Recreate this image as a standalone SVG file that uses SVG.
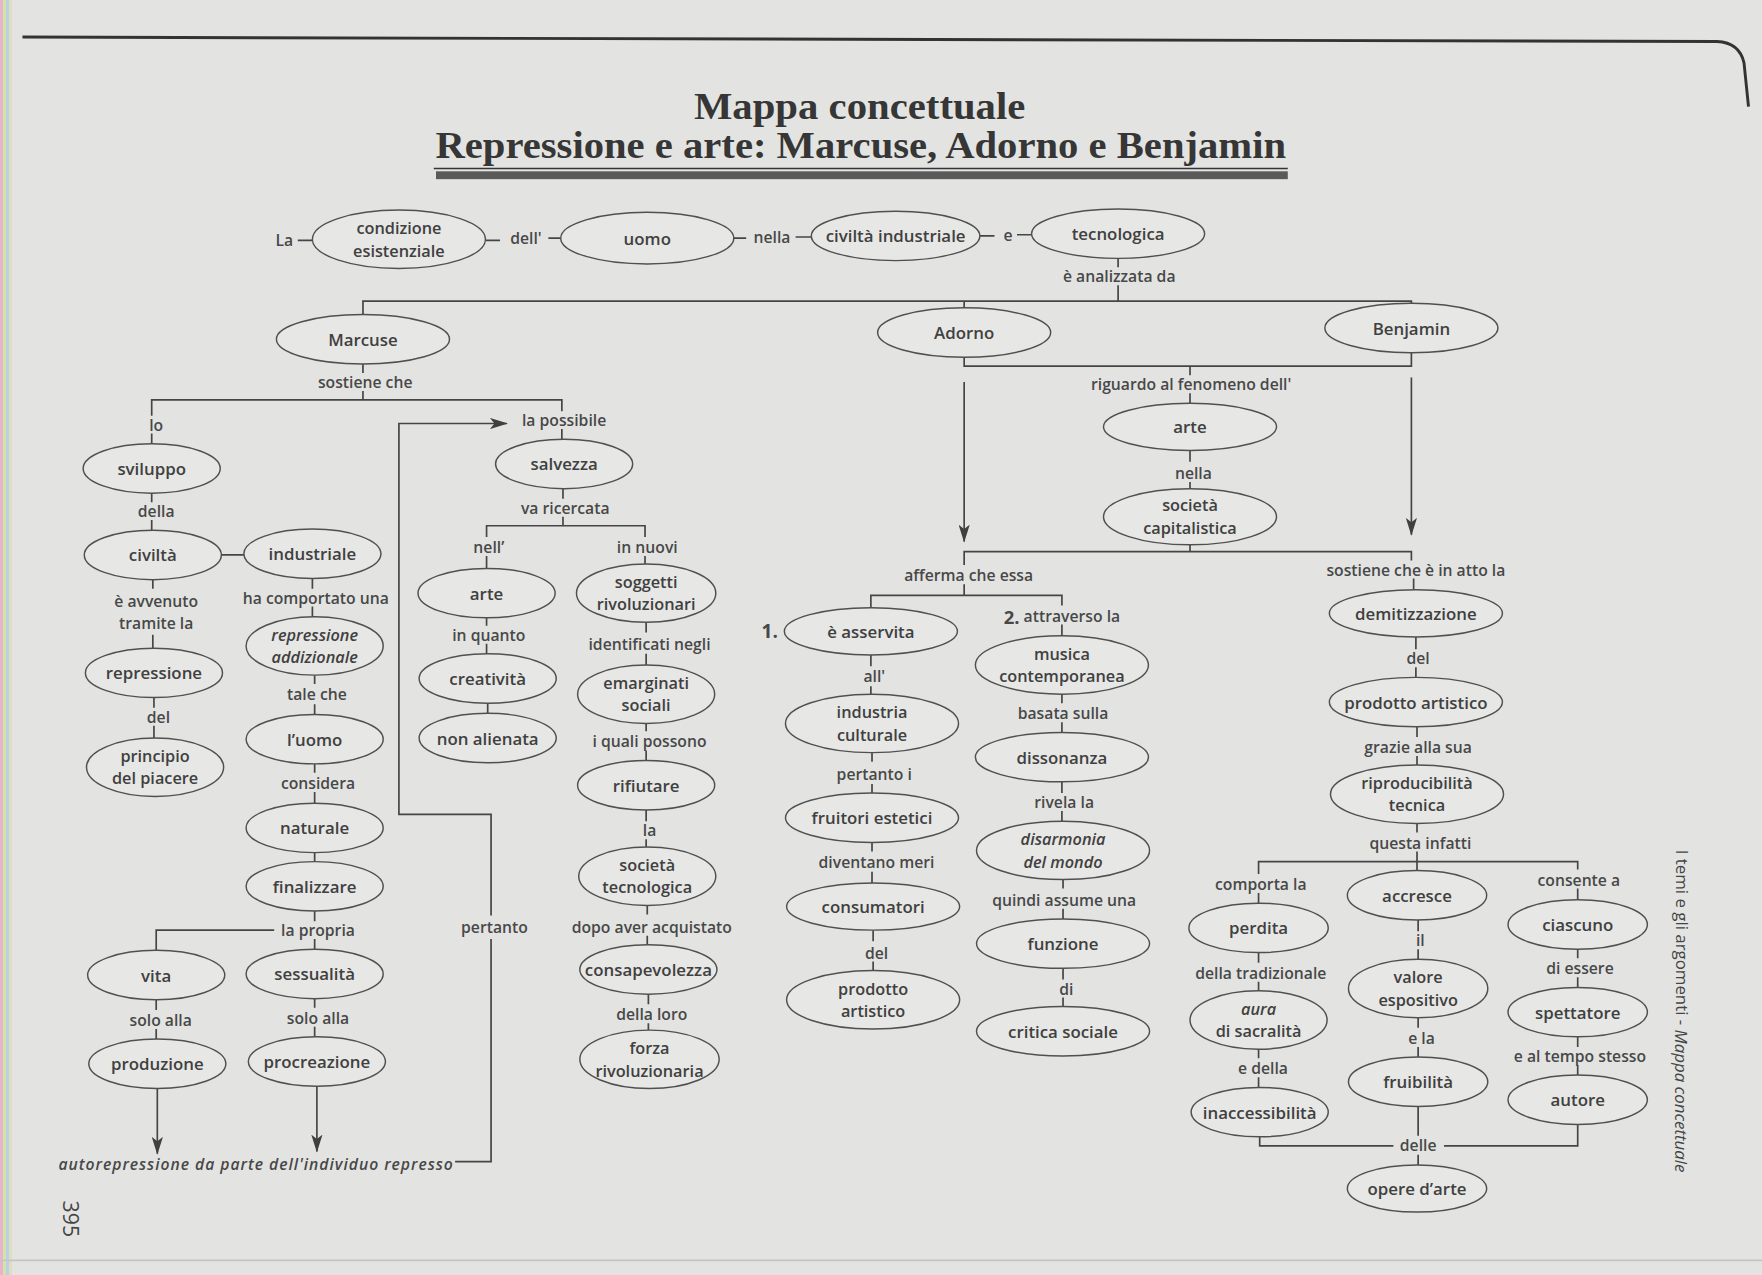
<svg xmlns="http://www.w3.org/2000/svg" width="1762" height="1275" viewBox="0 0 1762 1275">
<style>
.e{fill:#e7e7e5;stroke:#505050;stroke-width:1.3}
.n{font-family:"Open Sans","DejaVu Sans",sans-serif;font-weight:600;font-size:15px;fill:#404040;text-anchor:middle;dominant-baseline:central}
.m{font-size:14.5px}
.i{font-style:italic}
.l{font-family:"Open Sans","DejaVu Sans",sans-serif;font-weight:600;font-size:14px;fill:#484848;text-anchor:middle;dominant-baseline:central}
.c{fill:none;stroke:#454545;stroke-width:1.5}
.t{font-family:"Liberation Serif","Times New Roman",serif;font-weight:700;font-size:33px;fill:#363636;text-anchor:middle}
</style>
<defs>
<marker id="ar" viewBox="0 0 16 10" refX="15" refY="5" markerWidth="16" markerHeight="10" markerUnits="userSpaceOnUse" orient="auto">
<path d="M0,0 L16,5 L0,10 L4,5 z" fill="#404040"/>
</marker>
</defs>
<rect width="1762" height="1275" fill="#e3e4e2"/>
<g id="scan-edge">
<rect x="0" y="0" width="3" height="1275" fill="#e6b4cc"/>
<rect x="3" y="0" width="3" height="1275" fill="#d6e2a8"/>
<rect x="6" y="0" width="3" height="1275" fill="#b4d4e4"/>
<rect x="9" y="0" width="3" height="1275" fill="#e2dcc0"/>
</g>
<g transform="scale(1.12372 1.12335)">
<g id="page-border">
<path d="M20,33 L1528,37 Q1548,38 1552,56 L1556,95" fill="none" stroke="#333" stroke-width="2.6"/>
<line x1="0" y1="1122" x2="1568" y2="1122" stroke="#c4c5c3" stroke-width="1.5"/>
</g>
<g id="title">
<text class="t" x="765" y="106" textLength="295" lengthAdjust="spacingAndGlyphs">Mappa concettuale</text>
<text class="t" x="766" y="141" textLength="757" lengthAdjust="spacingAndGlyphs">Repressione e arte: Marcuse, Adorno e Benjamin</text>
<line x1="386" y1="150" x2="1146" y2="150" stroke="#333" stroke-width="1.5"/>
<rect x="388" y="152.5" width="758" height="7" fill="#5a5a5a"/>
</g>

<g id="connectors">
<path class="c" d="M265,214 H279 M432,214 H445 M488,212 H499 M653,212 H664 M708,211 H722 M872,210 H885 M905,209 H918"/>
<path class="c" d="M995,230 V238 M995,254 V268 M323,280 V268 H1256 V270 M858,268 V274"/>
<path class="c" d="M323,324 V332 M323,348 V356 M135,370 V356 H500 V366 M135,386 V395 M500,382 V391"/>
<path class="c" d="M858,318 V326 H1256 V314 M1059,326 V334 M1059,350 V359"/>
<path class="c" d="M858,340 V482" marker-end="url(#ar)"/>
<path class="c" d="M1256,336 V476" marker-end="url(#ar)"/>
<path class="c" d="M1059,401 V411 M1059,429 V438 M1059,482 V491 M858,503 V491 H1256 V499"/>
<path class="c" d="M858,520 V530 M775,541 V530 H945 V539 M945,556 V567"/>
<path class="c" d="M775,583 V593 M775,611 V620 M776,668 V678 M776,698 V706 M776,750 V758 M776,776 V786 M777,828 V838 M777,856 V866"/>
<path class="c" d="M945,617 V626 M945,643 V652 M945,696 V706 M945,722 V732 M946,782 V791 M946,809 V818 M946,862 V872 M946,888 V896"/>
<path class="c" d="M1258,515 V525 M1260,567 V578 M1260,594 V603 M1261,647 V656 M1261,673 V682 M1261,732 V741 M1261,758 V775"/>
<path class="c" d="M1120,778 V767 H1404 V774 M1120,795 V804 M1404,791 V801"/>
<path class="c" d="M1120,848 V857 M1120,874 V883 M1120,933 V942 M1120,959 V968 M1262,819 V829 M1262,845 V855 M1262,905 V915 M1262,932 V941 M1404,845 V853 M1404,870 V879 M1404,923 V932 M1404,948 V957"/>
<path class="c" d="M1121,1012 V1020 H1240 M1285,1020 H1404 V1001 M1262,985 V1011 M1262,1028 V1037"/>
<path class="c" d="M135,439 V447 M135,463 V472 M197,494 H217 M136,516 V524 M136,565 V577 M137,621 V630 M137,646 V657"/>
<path class="c" d="M278,515 V524 M278,540 V550 M280,600 V609 M280,627 V636 M280,680 V688 M280,705 V715 M280,759 V767 M280,811 V820 M280,836 V845 M244,828 H139 V846"/>
<path class="c" d="M139,890 V899 M139,916 V925 M280,889 V897 M280,914 V923"/>
<path class="c" d="M140,969 V1027" marker-end="url(#ar)"/>
<path class="c" d="M282,967 V1025" marker-end="url(#ar)"/>
<path class="c" d="M405,1034 H437 V836 M437,815 V725 H355 V377 H451" marker-end="url(#ar)"/>
<path class="c" d="M501,435 V444 M501,460 V468 M433,478 V468 H574 V478 M433,495 V506 M574,495 V503"/>
<path class="c" d="M433,550 V557 M433,573 V582 M434,626 V635 M575,553 V563 M575,582 V593 M575,643 V651 M575,668 V677 M575,721 V731 M575,747 V755 M576,805 V814 M576,833 V841 M577,885 V894 M577,911 V918"/>
</g>

<g id="labels">
<text class="l" x="253" y="214">La</text>
<text class="l" x="468" y="212">dell'</text>
<text class="l" x="687" y="211">nella</text>
<text class="l" x="897" y="209">e</text>
<text class="l" x="996" y="246">è analizzata da</text>
<text class="l" x="325" y="340">sostiene che</text>
<text class="l" x="139" y="378">lo</text>
<text class="l" x="502" y="374">la possibile</text>
<text class="l" x="1060" y="342">riguardo al fenomeno dell'</text>
<text class="l" x="1062" y="421">nella</text>
<text class="l" x="862" y="512">afferma che essa</text>
<text class="l" x="1260" y="507">sostiene che è in atto la</text>
<text class="l" x="139" y="455">della</text>
<text class="l" x="139" y="535">è avvenuto<tspan x="139" dy="19.5">tramite la</tspan></text>
<text class="l" x="141" y="638">del</text>
<text class="l" x="281" y="532">ha comportato una</text>
<text class="l" x="282" y="618">tale che</text>
<text class="l" x="283" y="697">considera</text>
<text class="l" x="283" y="828">la propria</text>
<text class="l" x="143" y="908">solo alla</text>
<text class="l" x="283" y="906">solo alla</text>
<text class="l" x="440" y="825">pertanto</text>
<text class="l i" x="52" y="1036" style="text-anchor:start" textLength="351">autorepressione da parte dell'individuo represso</text>
<text class="l" x="503" y="452">va ricercata</text>
<text class="l" x="435" y="487">nell’</text>
<text class="l" x="576" y="487">in nuovi</text>
<text class="l" x="435" y="565">in quanto</text>
<text class="l" x="578" y="573">identificati negli</text>
<text class="l" x="578" y="660">i quali possono</text>
<text class="l" x="578" y="739">la</text>
<text class="l" x="580" y="825">dopo aver acquistato</text>
<text class="l" x="580" y="903">della loro</text>
<text class="l" x="685" y="562" style="font-weight:700;font-size:17px">1.</text>
<text class="l" x="945" y="548"><tspan style="font-weight:700;font-size:16.5px">2.</tspan> attraverso la</text>
<text class="l" x="778" y="602">all'</text>
<text class="l" x="778" y="689">pertanto i</text>
<text class="l" x="780" y="767">diventano meri</text>
<text class="l" x="780" y="848">del</text>
<text class="l" x="946" y="635">basata sulla</text>
<text class="l" x="947" y="714">rivela la</text>
<text class="l" x="947" y="801">quindi assume una</text>
<text class="l" x="949" y="880">di</text>
<text class="l" x="1262" y="586">del</text>
<text class="l" x="1262" y="665">grazie alla sua</text>
<text class="l" x="1264" y="750">questa infatti</text>
<text class="l" x="1122" y="787">comporta la</text>
<text class="l" x="1405" y="783">consente a</text>
<text class="l" x="1122" y="866">della tradizionale</text>
<text class="l" x="1124" y="951">e della</text>
<text class="l" x="1264" y="837">il</text>
<text class="l" x="1265" y="924">e la</text>
<text class="l" x="1406" y="862">di essere</text>
<text class="l" x="1406" y="940">e al tempo stesso</text>
<text class="l" x="1262" y="1019">delle</text>
</g>

<g id="n-condizione"><ellipse class="e" cx="355" cy="213" rx="77" ry="26"/><text class="n m" x="355" y="203">condizione<tspan x="355" dy="20">esistenziale</tspan></text></g>
<g id="n-uomo"><ellipse class="e" cx="576" cy="212" rx="77" ry="23"/><text class="n" x="576" y="212">uomo</text></g>
<g id="n-civilta-industriale"><ellipse class="e" cx="797" cy="210" rx="75" ry="22"/><text class="n" x="797" y="210">civiltà industriale</text></g>
<g id="n-tecnologica"><ellipse class="e" cx="995" cy="208" rx="77" ry="22"/><text class="n" x="995" y="208">tecnologica</text></g>
<g id="n-marcuse"><ellipse class="e" cx="323" cy="302" rx="77" ry="22"/><text class="n" x="323" y="302">Marcuse</text></g>
<g id="n-adorno"><ellipse class="e" cx="858" cy="296" rx="77" ry="22"/><text class="n" x="858" y="296">Adorno</text></g>
<g id="n-benjamin"><ellipse class="e" cx="1256" cy="292" rx="77" ry="22"/><text class="n" x="1256" y="292">Benjamin</text></g>

<g id="n-sviluppo"><ellipse class="e" cx="135" cy="417" rx="61" ry="22"/><text class="n" x="135" y="417">sviluppo</text></g>
<g id="n-civilta"><ellipse class="e" cx="136" cy="494" rx="61" ry="22"/><text class="n" x="136" y="494">civiltà</text></g>
<g id="n-industriale"><ellipse class="e" cx="278" cy="493" rx="61" ry="22"/><text class="n" x="278" y="493">industriale</text></g>
<g id="n-repressione"><ellipse class="e" cx="137" cy="599" rx="61" ry="22"/><text class="n" x="137" y="599">repressione</text></g>
<g id="n-principio"><ellipse class="e" cx="138" cy="683" rx="61" ry="26"/><text class="n m" x="138" y="673">principio<tspan x="138" dy="20">del piacere</tspan></text></g>
<g id="n-repressione-addizionale"><ellipse class="e" cx="280" cy="575" rx="61" ry="26"/><text class="n m i" x="280" y="565">repressione<tspan x="280" dy="20">addizionale</tspan></text></g>
<g id="n-luomo"><ellipse class="e" cx="280" cy="658" rx="61" ry="22"/><text class="n" x="280" y="658">l’uomo</text></g>
<g id="n-naturale"><ellipse class="e" cx="280" cy="737" rx="61" ry="22"/><text class="n" x="280" y="737">naturale</text></g>
<g id="n-finalizzare"><ellipse class="e" cx="280" cy="789" rx="61" ry="22"/><text class="n" x="280" y="789">finalizzare</text></g>
<g id="n-vita"><ellipse class="e" cx="139" cy="868" rx="61" ry="22"/><text class="n" x="139" y="868">vita</text></g>
<g id="n-sessualita"><ellipse class="e" cx="280" cy="867" rx="61" ry="22"/><text class="n" x="280" y="867">sessualità</text></g>
<g id="n-produzione"><ellipse class="e" cx="140" cy="947" rx="61" ry="22"/><text class="n" x="140" y="947">produzione</text></g>
<g id="n-procreazione"><ellipse class="e" cx="282" cy="945" rx="61" ry="22"/><text class="n" x="282" y="945">procreazione</text></g>

<g id="n-salvezza"><ellipse class="e" cx="502" cy="413" rx="61" ry="22"/><text class="n" x="502" y="413">salvezza</text></g>
<g id="n-arte-marcuse"><ellipse class="e" cx="433" cy="528" rx="61" ry="22"/><text class="n" x="433" y="528">arte</text></g>
<g id="n-creativita"><ellipse class="e" cx="434" cy="604" rx="61" ry="22"/><text class="n" x="434" y="604">creatività</text></g>
<g id="n-non-alienata"><ellipse class="e" cx="434" cy="657" rx="61" ry="22"/><text class="n" x="434" y="657">non alienata</text></g>
<g id="n-soggetti"><ellipse class="e" cx="575" cy="528" rx="62" ry="26"/><text class="n m" x="575" y="518">soggetti<tspan x="575" dy="20">rivoluzionari</tspan></text></g>
<g id="n-emarginati"><ellipse class="e" cx="575" cy="618" rx="61" ry="26"/><text class="n m" x="575" y="608">emarginati<tspan x="575" dy="20">sociali</tspan></text></g>
<g id="n-rifiutare"><ellipse class="e" cx="575" cy="699" rx="61" ry="22"/><text class="n" x="575" y="699">rifiutare</text></g>
<g id="n-societa-tecnologica"><ellipse class="e" cx="576" cy="780" rx="61" ry="26"/><text class="n m" x="576" y="770">società<tspan x="576" dy="20">tecnologica</tspan></text></g>
<g id="n-consapevolezza"><ellipse class="e" cx="577" cy="863" rx="61" ry="22"/><text class="n" x="577" y="863">consapevolezza</text></g>
<g id="n-forza"><ellipse class="e" cx="578" cy="943" rx="62" ry="26"/><text class="n m" x="578" y="933">forza<tspan x="578" dy="20">rivoluzionaria</tspan></text></g>

<g id="n-arte"><ellipse class="e" cx="1059" cy="380" rx="77" ry="21"/><text class="n" x="1059" y="380">arte</text></g>
<g id="n-societa-capitalistica"><ellipse class="e" cx="1059" cy="460" rx="77" ry="25"/><text class="n m" x="1059" y="450">società<tspan x="1059" dy="20">capitalistica</tspan></text></g>
<g id="n-asservita"><ellipse class="e" cx="775" cy="562" rx="77" ry="21"/><text class="n" x="775" y="562">è asservita</text></g>
<g id="n-industria-culturale"><ellipse class="e" cx="776" cy="644" rx="77" ry="26"/><text class="n m" x="776" y="634">industria<tspan x="776" dy="20">culturale</tspan></text></g>
<g id="n-fruitori"><ellipse class="e" cx="776" cy="728" rx="77" ry="22"/><text class="n" x="776" y="728">fruitori estetici</text></g>
<g id="n-consumatori"><ellipse class="e" cx="777" cy="807" rx="77" ry="21"/><text class="n" x="777" y="807">consumatori</text></g>
<g id="n-prodotto-artistico-a"><ellipse class="e" cx="777" cy="890" rx="77" ry="26"/><text class="n m" x="777" y="880">prodotto<tspan x="777" dy="20">artistico</tspan></text></g>
<g id="n-musica"><ellipse class="e" cx="945" cy="592" rx="77" ry="26"/><text class="n m" x="945" y="582">musica<tspan x="945" dy="20">contemporanea</tspan></text></g>
<g id="n-dissonanza"><ellipse class="e" cx="945" cy="674" rx="77" ry="22"/><text class="n" x="945" y="674">dissonanza</text></g>
<g id="n-disarmonia"><ellipse class="e" cx="946" cy="757" rx="77" ry="26"/><text class="n m i" x="946" y="747">disarmonia<tspan x="946" dy="20">del mondo</tspan></text></g>
<g id="n-funzione"><ellipse class="e" cx="946" cy="840" rx="77" ry="22"/><text class="n" x="946" y="840">funzione</text></g>
<g id="n-critica"><ellipse class="e" cx="946" cy="918" rx="77" ry="22"/><text class="n" x="946" y="918">critica sociale</text></g>

<g id="n-demitizzazione"><ellipse class="e" cx="1260" cy="546" rx="77" ry="21"/><text class="n" x="1260" y="546">demitizzazione</text></g>
<g id="n-prodotto-artistico-b"><ellipse class="e" cx="1260" cy="625" rx="77" ry="22"/><text class="n" x="1260" y="625">prodotto artistico</text></g>
<g id="n-riproducibilita"><ellipse class="e" cx="1261" cy="707" rx="77" ry="26"/><text class="n m" x="1261" y="697">riproducibilità<tspan x="1261" dy="20">tecnica</tspan></text></g>
<g id="n-accresce"><ellipse class="e" cx="1261" cy="797" rx="62" ry="22"/><text class="n" x="1261" y="797">accresce</text></g>
<g id="n-perdita"><ellipse class="e" cx="1120" cy="826" rx="62" ry="22"/><text class="n" x="1120" y="826">perdita</text></g>
<g id="n-ciascuno"><ellipse class="e" cx="1404" cy="823" rx="62" ry="22"/><text class="n" x="1404" y="823">ciascuno</text></g>
<g id="n-aura"><ellipse class="e" cx="1120" cy="908" rx="61" ry="26"/><text class="n m" x="1120" y="898"><tspan font-style="italic">aura</tspan><tspan x="1120" dy="20">di sacralità</tspan></text></g>
<g id="n-inaccessibilita"><ellipse class="e" cx="1121" cy="990" rx="61" ry="22"/><text class="n" x="1121" y="990">inaccessibilità</text></g>
<g id="n-valore"><ellipse class="e" cx="1262" cy="880" rx="62" ry="26"/><text class="n m" x="1262" y="870">valore<tspan x="1262" dy="20">espositivo</tspan></text></g>
<g id="n-fruibilita"><ellipse class="e" cx="1262" cy="963" rx="62" ry="22"/><text class="n" x="1262" y="963">fruibilità</text></g>
<g id="n-spettatore"><ellipse class="e" cx="1404" cy="901" rx="62" ry="22"/><text class="n" x="1404" y="901">spettatore</text></g>
<g id="n-autore"><ellipse class="e" cx="1404" cy="979" rx="62" ry="22"/><text class="n" x="1404" y="979">autore</text></g>
<g id="n-opere"><ellipse class="e" cx="1261" cy="1058" rx="62" ry="21"/><text class="n" x="1261" y="1058">opere d’arte</text></g>

<g id="margin-text">
<text transform="translate(1497,900) rotate(90)" style="font-family:'Open Sans','DejaVu Sans',sans-serif;font-size:15px;fill:#444;text-anchor:middle;dominant-baseline:central">I temi e gli argomenti - <tspan font-style="italic">Mappa concettuale</tspan></text>
<text transform="translate(64,1085) rotate(90)" style="font-family:'Open Sans','DejaVu Sans',sans-serif;font-size:19px;fill:#444;text-anchor:middle;dominant-baseline:central">395</text>
</g>
</g>
</svg>
